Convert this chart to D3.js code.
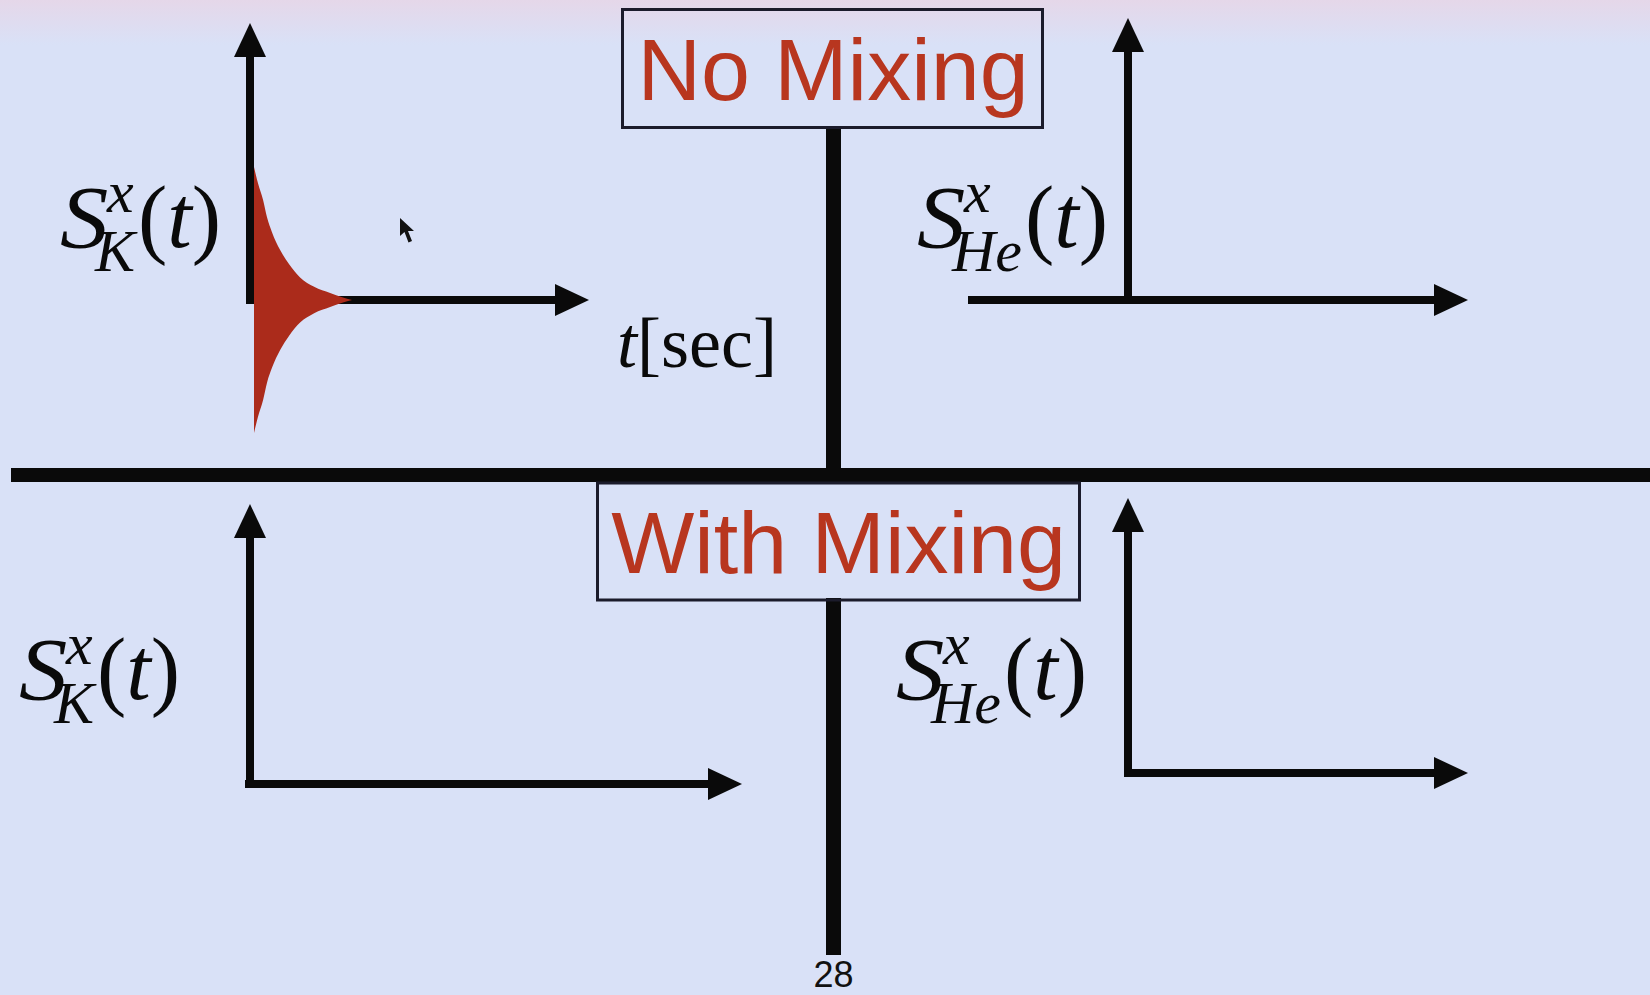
<!DOCTYPE html>
<html>
<head>
<meta charset="utf-8">
<script src="https://cdn.jsdelivr.net/npm/d3@7"></script>
<style>
  html, body { margin: 0; padding: 0; overflow: hidden; background: #d9e1f7; }
</style>
</head>
<body>
<div id="chart"></div>
<script>
// ---- data ----
const sectionTitles = ["No Mixing", "With Mixing"];
const panelSpecies = ["K", "He", "K", "He"];
const timeLabel = ["t", "[sec]"];
const pageNumber = "28";
// envelope of the K precession signal, no-mixing case (time, relative amplitude)
const envT = [0, 0.12, 0.28, 0.40, 0.55, 0.80, 1.07, 1.41, 1.84, 2.33, 2.70, 3.0];
const envA = [1, 0.88, 0.75, 0.62, 0.51, 0.376, 0.27, 0.17, 0.10, 0.053, 0.02, 0];
const tMax = 10.25;

const width = 1650;
const height = 995;
const serif = "'Liberation Serif', 'Times New Roman', Times, serif";
const sans = "'Liberation Sans', Arial, Helvetica, sans-serif";
const red = "#b8361f";
const ink = "#0a0a0a";

// where each little axis system sits on the slide
const layout = [
  { ox: 250, oy: 300, tip: 23, hStart: 246, hTip: 589, lx: 60, ly: 247 },
  { ox: 1128, oy: 300, tip: 18, hStart: 968, hTip: 1468, lx: 917, ly: 247 },
  { ox: 250, oy: 784, tip: 504, hStart: 245, hTip: 742, lx: 19, ly: 699 },
  { ox: 1128, oy: 773, tip: 498, hStart: 1124, hTip: 1468, lx: 896, ly: 699 },
];

const svg = d3.select("#chart")
  .append("svg")
  .attr("width", width)
  .attr("height", height);

// background with the pinkish fade at the top
const defs = svg.append("defs");
const grad = defs.append("linearGradient")
  .attr("id", "bg").attr("x1", 0).attr("y1", 0).attr("x2", 0).attr("y2", 1);
grad.append("stop").attr("offset", "0%").attr("stop-color", "#e5d7e9");
grad.append("stop").attr("offset", "4.5%").attr("stop-color", "#d9e1f7");
grad.append("stop").attr("offset", "100%").attr("stop-color", "#d9e1f7");
svg.append("rect").attr("width", width).attr("height", height).attr("fill", "url(#bg)");

const headLen = 34;
const headHalf = 16;
const lw = 8;

const drawAxes = (p) => {
  const x = d3.scaleLinear().domain([0, tMax]).range([p.ox + lw / 2, p.hTip]);
  const y = d3.scaleLinear().domain([-1, 1]).range([p.oy + 133, p.oy - 133]);
  const g = svg.append("g");

  // vertical axis + head
  g.append("line")
    .attr("x1", p.ox).attr("x2", p.ox)
    .attr("y1", p.oy + lw / 2).attr("y2", p.tip + headLen - 2)
    .attr("stroke", ink).attr("stroke-width", lw);
  g.append("path")
    .attr("d", `M${p.ox},${p.tip}L${p.ox - headHalf},${p.tip + headLen}L${p.ox + headHalf},${p.tip + headLen}Z`)
    .attr("fill", ink);

  // time axis + head
  const xEnd = x(tMax);
  g.append("line")
    .attr("x1", p.hStart).attr("x2", xEnd - headLen + 2)
    .attr("y1", p.oy).attr("y2", p.oy)
    .attr("stroke", ink).attr("stroke-width", lw);
  g.append("path")
    .attr("d", `M${xEnd},${p.oy}L${xEnd - headLen},${p.oy - headHalf}L${xEnd - headLen},${p.oy + headHalf}Z`)
    .attr("fill", ink);

  return { x, y, g };
};

const mathLabel = (p, sub) => {
  const g = svg.append("g").attr("font-family", serif).attr("fill", ink);
  g.append("text")
    .attr("x", p.lx).attr("y", p.ly)
    .attr("font-size", 88).attr("font-style", "italic")
    .attr("transform", `translate(${p.lx},0) scale(1.1,1) translate(${-p.lx},0)`)
    .text("S");
  const sup = g.append("text")
    .attr("x", p.lx + 47).attr("y", p.ly - 35)
    .attr("font-size", 60).attr("font-style", "italic")
    .text("x");
  const sb = g.append("text")
    .attr("x", p.lx + 35).attr("y", p.ly + 24)
    .attr("font-size", 60).attr("font-style", "italic")
    .text(sub);
  const end = Math.max(
    p.lx + 47 + sup.node().getComputedTextLength(),
    p.lx + 35 + sb.node().getComputedTextLength()
  );
  const paren = g.append("text")
    .attr("x", end + 3).attr("y", p.ly)
    .attr("font-size", 88);
  paren.append("tspan").text("(");
  paren.append("tspan").attr("font-style", "italic").text("t");
  paren.append("tspan").text(")");
};

const panels = layout.map(drawAxes);
layout.forEach((p, i) => mathLabel(p, panelSpecies[i]));

// decaying K signal, only in the no-mixing panel
const envData = envT.map((t, i) => ({ t, a: envA[i] }));
const p0 = panels[0];
const area = d3.area()
  .x((d) => p0.x(d.t))
  .y0((d) => p0.y(-d.a))
  .y1((d) => p0.y(d.a))
  .curve(d3.curveMonotoneX);
p0.g.append("path")
  .datum(envData)
  .attr("d", area)
  .attr("fill", "#ab2b1b");

// t[sec] label
const tl = svg.append("text")
  .attr("x", 617).attr("y", 367)
  .attr("font-family", serif).attr("font-size", 72).attr("fill", ink);
tl.append("tspan").attr("font-style", "italic").text(timeLabel[0]);
tl.append("tspan").text(timeLabel[1]);

// centre dividers
svg.append("line")
  .attr("x1", 833.5).attr("x2", 833.5).attr("y1", 127).attr("y2", 476)
  .attr("stroke", ink).attr("stroke-width", 15);
svg.append("line")
  .attr("x1", 833.5).attr("x2", 833.5).attr("y1", 598).attr("y2", 955)
  .attr("stroke", ink).attr("stroke-width", 15);
svg.append("line")
  .attr("x1", 11).attr("x2", width).attr("y1", 475).attr("y2", 475)
  .attr("stroke", ink).attr("stroke-width", 14);

// section title boxes
const boxes = [
  { x: 622.5, y: 9.5, w: 420, h: 118, cx: 833, base: 100 },
  { x: 597.5, y: 483, w: 482, h: 117, cx: 838.5, base: 573 },
];
boxes.forEach((b, i) => {
  svg.append("rect")
    .attr("x", b.x).attr("y", b.y).attr("width", b.w).attr("height", b.h)
    .attr("fill", "none").attr("stroke", "#1b1b2b").attr("stroke-width", 3);
  svg.append("text")
    .attr("x", b.cx).attr("y", b.base)
    .attr("text-anchor", "middle")
    .attr("font-family", sans).attr("font-size", 88)
    .attr("fill", red)
    .text(sectionTitles[i]);
});

// mouse pointer caught in the screen grab
svg.append("path")
  .attr("transform", "translate(400,218)")
  .attr("d", "M0,0L0,18L4.5,14L8.5,24.5L12,23L8,13L14,13Z")
  .attr("fill", "#111");

// slide number
svg.append("text")
  .attr("x", 833.5).attr("y", 987)
  .attr("text-anchor", "middle")
  .attr("font-family", sans).attr("font-size", 36)
  .attr("fill", "#111")
  .text(pageNumber);
</script>
</body>
</html>
